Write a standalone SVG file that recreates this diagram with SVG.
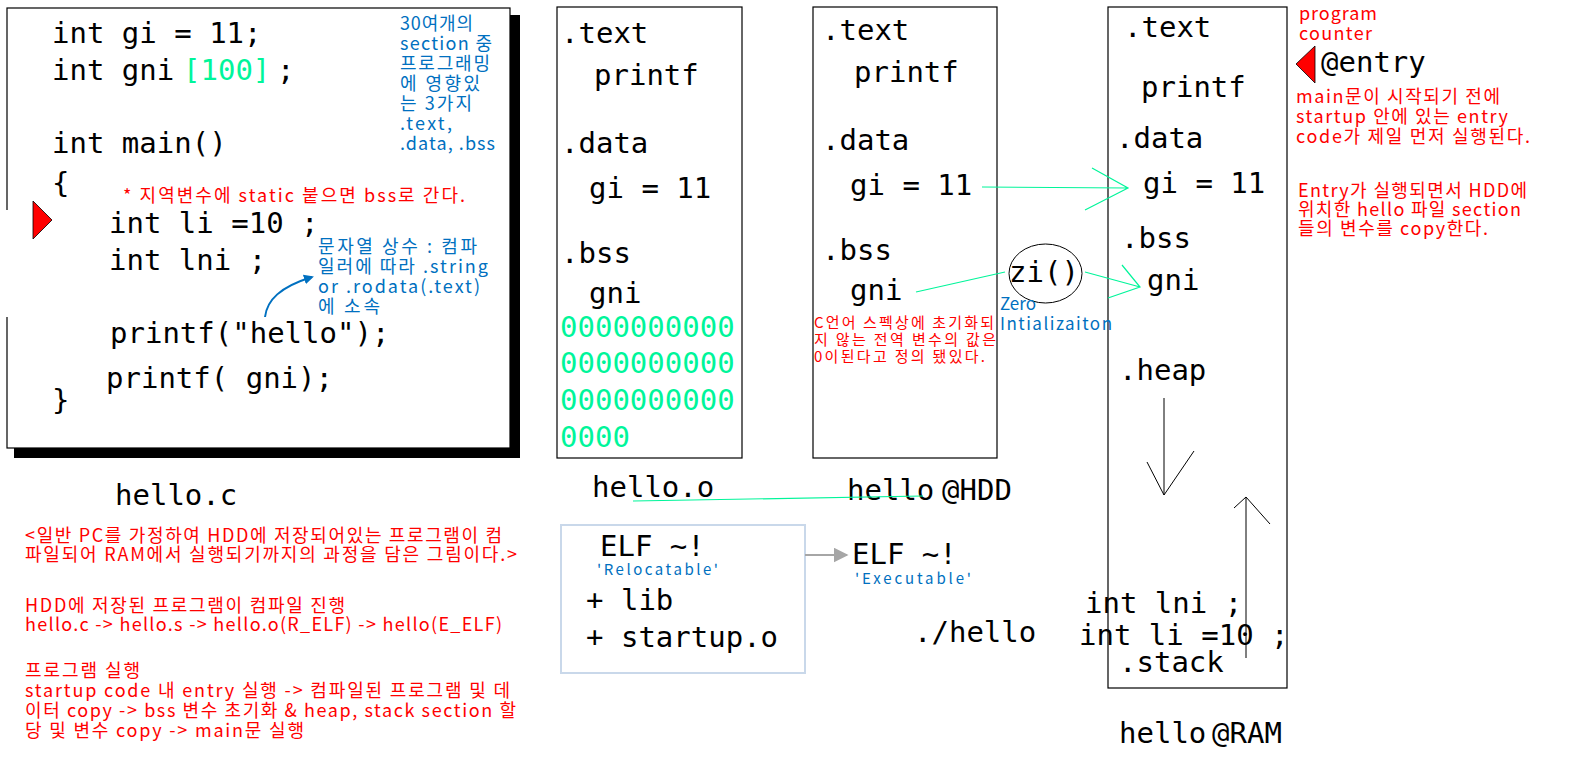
<svg xmlns="http://www.w3.org/2000/svg" width="1582" height="763" viewBox="0 0 1582 763">
<style>
.m{font-family:"DejaVu Sans Mono","Liberation Mono",monospace;font-size:29px;fill:#000}
.g{fill:#00F59A}
.r{font-family:"Noto Sans CJK KR","Noto Sans",sans-serif;font-size:18px;fill:#FF0000}
.rs{font-family:"Noto Sans CJK KR","Noto Sans",sans-serif;font-size:15px;fill:#FF0000}
.b{font-family:"Noto Sans CJK KR","Noto Sans",sans-serif;font-size:17px;fill:#0070C0}
.bt{font-family:"Noto Sans CJK KR","Noto Sans",sans-serif;font-size:18px;fill:#0070C0}
.bs{font-family:"Noto Sans CJK KR","Noto Sans",sans-serif;font-size:15px;fill:#0070C0}
.box{fill:#fff;stroke:#000;stroke-width:1.2}
.gl{stroke:#00F59A;stroke-width:1.2;fill:none}
.kl{stroke:#000;stroke-width:1;fill:none}
</style>
<defs>
<marker id="ab" viewBox="0 0 10 10" refX="8" refY="5" markerWidth="10" markerHeight="10" markerUnits="userSpaceOnUse" orient="auto"><path d="M0,0L10,5L0,10z" fill="#0070C0"/></marker>
<marker id="ag" viewBox="0 0 10 10" refX="9" refY="5" markerWidth="15" markerHeight="15" markerUnits="userSpaceOnUse" orient="auto"><path d="M0,0L10,5L0,10z" fill="#A6A6A6"/></marker>
</defs>
<rect width="1582" height="763" fill="#fff"/>

<g id="code">
<rect x="14" y="15" width="506" height="443" fill="#000"/>
<rect class="box" x="7" y="8" width="503" height="440"/>
<rect x="3" y="210" width="8" height="107" fill="#fff"/>
<path d="M33,201L52,220L33,239z" fill="#FF0000" stroke="#000" stroke-width="0.8"/>
<text class="m" x="52" y="43">int gi = 11;</text>
<text class="m" x="52" y="80">int gni</text>
<text class="m g" x="183" y="80">[100]</text>
<text class="m" x="277" y="80">;</text>
<text class="m" x="52" y="153">int main()</text>
<text class="m" x="52" y="193">{</text>
<text class="r" x="123" y="202" textLength="342">* 지역변수에 static 붙으면 bss로 간다.</text>
<text class="m" x="109" y="233">int li =10 ;</text>
<text class="m" x="109" y="270">int lni ;</text>
<text class="m" x="110" y="343">printf("hello");</text>
<text class="m" x="106" y="388">printf( gni);</text>
<text class="m" x="52" y="410">}</text>
<text class="bt" x="400" y="30" textLength="73">30여개의</text>
<text class="bt" x="400" y="50" textLength="92">section 중</text>
<text class="bt" x="400" y="70" textLength="90">프로그래밍</text>
<text class="bt" x="400" y="90" textLength="80">에 영향있</text>
<text class="bt" x="400" y="110" textLength="72">는 3가지</text>
<text class="bt" x="400" y="130" textLength="52">.text,</text>
<text class="bt" x="400" y="150" textLength="95">.data, .bss</text>
<text class="bt" x="318" y="253" textLength="159">문자열 상수 : 컴파</text>
<text class="bt" x="318" y="273" textLength="170">일러에 따라 .string</text>
<text class="bt" x="318" y="293" textLength="162">or .rodata(.text)</text>
<text class="bt" x="318" y="313" textLength="62">에 소속</text>
</g>

<g id="notes">
<text class="m" x="115" y="505">hello.c</text>
<text class="r" x="25" y="542" textLength="477">&lt;일반 PC를 가정하여 HDD에 저장되어있는 프로그램이 컴</text>
<text class="r" x="25" y="561" textLength="492">파일되어 RAM에서 실행되기까지의 과정을 담은 그림이다.&gt;</text>
<text class="r" x="25" y="612" textLength="320">HDD에 저장된 프로그램이 컴파일 진행</text>
<text class="r" x="25" y="631" textLength="477">hello.c -&gt; hello.s -&gt; hello.o(R_ELF) -&gt; hello(E_ELF)</text>
<text class="r" x="25" y="677" textLength="115">프로그램 실행</text>
<text class="r" x="25" y="697" textLength="485">startup code 내 entry 실행 -&gt; 컴파일된 프로그램 및 데</text>
<text class="r" x="25" y="717" textLength="491">이터 copy -&gt; bss 변수 초기화 &amp; heap, stack section 할</text>
<text class="r" x="25" y="737" textLength="279">당 및 변수 copy -&gt; main문 실행</text>
</g>

<g id="hello_o">
<rect class="box" x="557" y="7" width="185" height="451"/>
<text class="m" x="561" y="43">.text</text>
<text class="m" x="594" y="85">printf</text>
<text class="m" x="561" y="153">.data</text>
<text class="m" x="589" y="198">gi = 11</text>
<text class="m" x="561" y="263">.bss</text>
<text class="m" x="589" y="303">gni</text>
<text class="m g" x="560" y="337">0000000000</text>
<text class="m g" x="560" y="373">0000000000</text>
<text class="m g" x="560" y="410">0000000000</text>
<text class="m g" x="560" y="447">0000</text>
<text class="m" x="592" y="497">hello.o</text>
</g>

<g id="hello_hdd">
<rect class="box" x="813" y="7" width="184" height="451"/>
<text class="m" x="822" y="40">.text</text>
<text class="m" x="854" y="82">printf</text>
<text class="m" x="822" y="150">.data</text>
<text class="m" x="850" y="195">gi = 11</text>
<text class="m" x="822" y="260">.bss</text>
<text class="m" x="850" y="300">gni</text>
<text class="rs" x="814" y="328" textLength="180">C언어 스펙상에 초기화되</text>
<text class="rs" x="814" y="345" textLength="182">지 않는 전역 변수의 값은</text>
<text class="rs" x="814" y="362" textLength="171">0이된다고 정의 됐있다.</text>
<text class="m" x="847" y="500">hello</text>
<text class="m" x="942" y="500">@HDD</text>
</g>

<g id="hello_ram">
<rect class="box" x="1108" y="7" width="179" height="681"/>
<text class="m" x="1124" y="37">.text</text>
<text class="m" x="1141" y="97">printf</text>
<text class="m" x="1116" y="148">.data</text>
<text class="m" x="1143" y="193">gi = 11</text>
<text class="m" x="1121" y="248">.bss</text>
<text class="m" x="1147" y="290">gni</text>
<text class="m" x="1119" y="380">.heap</text>
<text class="m" x="1085" y="613">int lni ;</text>
<text class="m" x="1079" y="645">int li =10 ;</text>
<text class="m" x="1119" y="672">.stack</text>
<text class="m" x="1119" y="743">hello</text>
<text class="m" x="1212" y="743">@RAM</text>
</g>

<g id="zi">
<ellipse cx="1045.5" cy="273.5" rx="36.5" ry="29.5" fill="none" stroke="#000" stroke-width="1"/>
<text class="m" x="1009" y="282">zi()</text>
<text class="b" x="1000" y="310">Zero</text>
<text class="b" x="1000" y="330" textLength="112">Intializaiton</text>
</g>

<g id="elf_r">
<rect x="561" y="525" width="244" height="148" fill="none" stroke="#C9D8EA" stroke-width="2"/>
<text class="m" x="600" y="556">ELF ~!</text>
<text class="bs" x="597" y="575" textLength="121">'Relocatable'</text>
<text class="m" x="586" y="610">+ lib</text>
<text class="m" x="586" y="647">+ startup.o</text>
</g>

<g id="elf_e">
<text class="m" x="852" y="564">ELF ~!</text>
<text class="bs" x="855" y="584" textLength="116">'Executable'</text>
<text class="m" x="914" y="642">./hello</text>
</g>

<g id="entry">
<text class="r" x="1299" y="20" textLength="78">program</text>
<text class="r" x="1299" y="40" textLength="73">counter</text>
<path d="M1296,64L1315,46L1315,83z" fill="#FF0000" stroke="#000" stroke-width="0.8"/>
<text class="m" x="1321" y="72">@entry</text>
<text class="r" x="1296" y="103" textLength="204">main문이 시작되기 전에</text>
<text class="r" x="1296" y="123" textLength="212">startup 안에 있는 entry</text>
<text class="r" x="1296" y="143" textLength="234">code가 제일 먼저 실행된다.</text>
<text class="r" x="1298" y="197" textLength="229">Entry가 실행되면서 HDD에</text>
<text class="r" x="1298" y="216" textLength="223">위치한 hello 파일 section</text>
<text class="r" x="1298" y="235" textLength="190">들의 변수를 copy한다.</text>
</g>

<g id="connectors">
<path d="M265,317C267,300 280,287 312,277" fill="none" stroke="#0070C0" stroke-width="2" marker-end="url(#ab)"/>
<path class="gl" d="M982,187L1128,188M1092,168L1128,188L1085,210"/>
<path class="gl" d="M916,292L1005,272"/>
<path class="gl" d="M1085,272L1140,287M1122,265L1140,287L1108,298"/>
<path class="gl" d="M633,501L923,496"/>
<path d="M805,555L847,555" stroke="#A6A6A6" stroke-width="2" fill="none" marker-end="url(#ag)"/>
<path class="kl" d="M1164,398L1164,495M1147,462L1164,495L1194,451"/>
<path class="kl" d="M1246,658L1246,497M1234,508L1246,497L1270,524"/>
</g>
</svg>
